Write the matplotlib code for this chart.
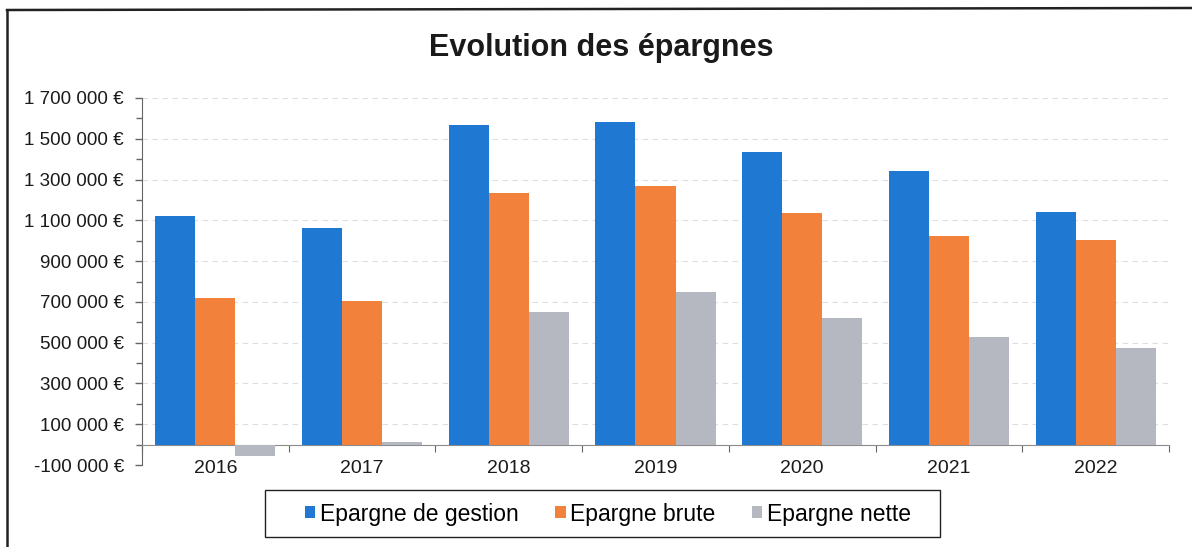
import numpy as np
import matplotlib
matplotlib.use("Agg")
import matplotlib.pyplot as plt
from matplotlib.ticker import FuncFormatter, FixedLocator
from matplotlib.lines import Line2D
from matplotlib.patches import Rectangle

plt.rcParams["font.family"] = ["Liberation Sans", "DejaVu Sans"]

# Data (euros)
years = ["2016", "2017", "2018", "2019", "2020", "2021", "2022"]
epargne_gestion = [1123000, 1063000, 1566000, 1582000, 1436000, 1340000, 1139000]
epargne_brute = [719000, 704000, 1234000, 1267000, 1136000, 1024000, 1004000]
epargne_nette = [-56000, 12000, 648000, 748000, 619000, 526000, 472000]
series_labels = ["Epargne de gestion", "Epargne brute", "Epargne nette"]
series_colors = ["#1F78D2", "#F2813B", "#B5B7C1"]

W, H = 1192, 547
fig = plt.figure(figsize=(W / 100, H / 100), dpi=100)
ax = fig.add_axes([142 / W, 1 - 465 / H, (1169 - 142) / W, (465 - 98) / H])

x = np.arange(len(years))
width = 0.273
series = [epargne_gestion, epargne_brute, epargne_nette]
for i, (vals, lab, col) in enumerate(zip(series, series_labels, series_colors)):
    ax.bar(x + (i - 1) * width, vals, width, color=col, label=lab, zorder=3)

ax.set_xlim(-0.5, len(years) - 0.5)
ax.set_ylim(-100000, 1700000)

# y axis
ax.yaxis.set_major_locator(FixedLocator(np.arange(-100000, 1700001, 200000)))
ax.yaxis.set_minor_locator(FixedLocator(np.arange(0, 1600001, 200000)))
ax.yaxis.set_major_formatter(
    FuncFormatter(lambda v, p: f"{int(v):,} €".replace(",", " "))
)
ax.tick_params(axis="y", which="both", direction="out", color="#666666",
               labelsize=13.5, labelcolor="#1a1a1a", pad=8)
ax.tick_params(axis="y", which="major", length=5, width=1)
ax.tick_params(axis="y", which="minor", length=4, width=1)
ax.grid(axis="y", which="major", color="#dedede", linestyle=(0, (5, 4)),
        linewidth=0.8, zorder=0)

# x axis at zero, ticks on category boundaries, labels centered
ax.spines["bottom"].set_position(("data", 0))
ax.spines["bottom"].set_color("#8c8c8c")
ax.spines["left"].set_color("#666666")
ax.spines["top"].set_visible(False)
ax.spines["right"].set_visible(False)
ax.xaxis.set_major_locator(FixedLocator(np.arange(-0.5, len(years), 1.0)))
ax.xaxis.set_major_formatter(FuncFormatter(lambda v, p: ""))
ax.set_xticks(x, minor=True)
ax.set_xticklabels(years, minor=True)
ax.tick_params(axis="x", which="major", direction="out", length=5,
               color="#666666")
ax.tick_params(axis="x", which="minor", length=0, labelsize=14,
               labelcolor="#1a1a1a", pad=11)

fig.text(601 / W, 1 - 48 / H, "Evolution des épargnes", ha="center",
         va="center", fontsize=22, fontweight="bold", color="#1a1a1a")

# legend entries without frame, box drawn separately (Excel-style padding)
leg = fig.legend(loc="center", bbox_to_anchor=(608 / W, 1 - 514 / H),
                 ncol=3, frameon=False, fontsize=16.5,
                 handlelength=0.45, handleheight=0.45, handletextpad=0.2,
                 columnspacing=1.6, borderpad=0, borderaxespad=0)
fig.add_artist(Rectangle((265 / W, 1 - 537 / H), (940 - 265) / W, 47 / H,
                         transform=fig.transFigure, fill=False,
                         edgecolor="#222222", lw=1.0))

# outer frame of the scanned chart (left and top edges)
fig.add_artist(Line2D([7 / W, 7 / W], [0, 1 - 10 / H],
                      transform=fig.transFigure, color="#222222", lw=1.8))
fig.add_artist(Line2D([7 / W, 1], [1 - 10 / H, 1 - 8 / H],
                      transform=fig.transFigure, color="#222222", lw=1.8))

fig.savefig("out.png", dpi=100)
